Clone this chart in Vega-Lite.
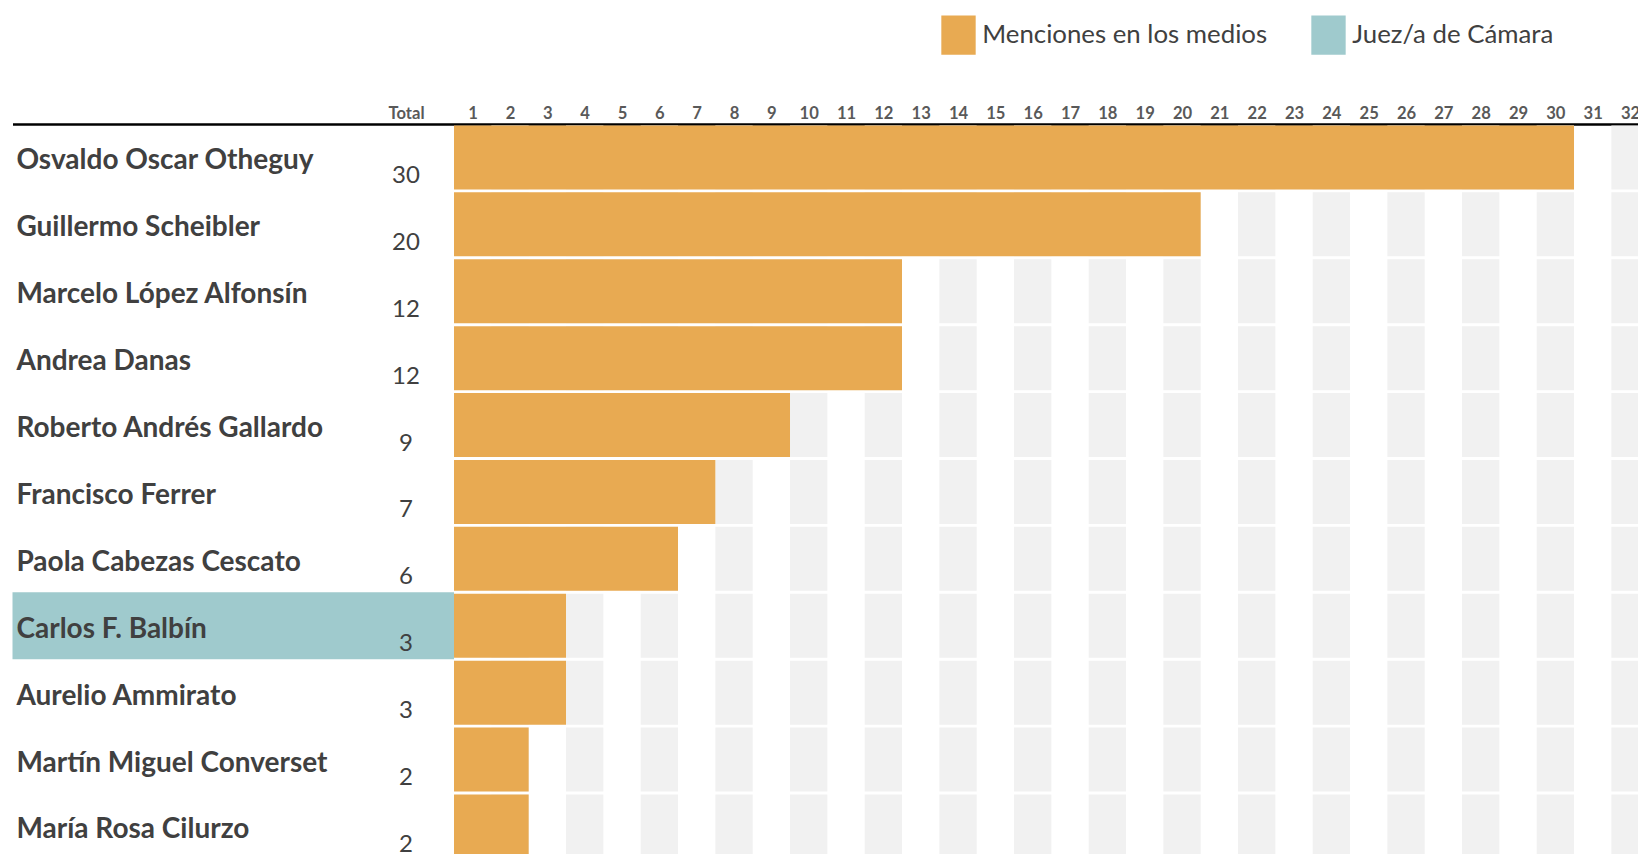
{
  "$schema": "https://vega.github.io/schema/vega-lite/v6.json",
  "autosize": {"type": "none"},
  "padding": {"left": 12.5, "top": 124, "right": 0, "bottom": 0},
  "width": 1625.5,
  "height": 730,
  "background": "white",
  "config": {"view": {"stroke": null}, "font": "Lato"},
  "datasets": {
    "rows": [
      {"r": 1, "n": "Osvaldo Oscar Otheguy", "total": 30, "juez": false},
      {"r": 2, "n": "Guillermo Scheibler", "total": 20, "juez": false},
      {"r": 3, "n": "Marcelo López Alfonsín", "total": 12, "juez": false},
      {"r": 4, "n": "Andrea Danas", "total": 12, "juez": false},
      {"r": 5, "n": "Roberto Andrés Gallardo", "total": 9, "juez": false},
      {"r": 6, "n": "Francisco Ferrer", "total": 7, "juez": false},
      {"r": 7, "n": "Paola Cabezas Cescato", "total": 6, "juez": false},
      {"r": 8, "n": "Carlos F. Balbín", "total": 3, "juez": true},
      {"r": 9, "n": "Aurelio Ammirato", "total": 3, "juez": false},
      {"r": 10, "n": "Martín Miguel Converset", "total": 2, "juez": false},
      {"r": 11, "n": "María Rosa Cilurzo", "total": 2, "juez": false}
    ],
    "cells": [
      {"r":1,"c":2},{"r":1,"c":4},{"r":1,"c":6},{"r":1,"c":8},{"r":1,"c":10},{"r":1,"c":12},{"r":1,"c":14},{"r":1,"c":16},{"r":1,"c":18},{"r":1,"c":20},{"r":1,"c":22},{"r":1,"c":24},{"r":1,"c":26},{"r":1,"c":28},{"r":1,"c":30},{"r":1,"c":32},
      {"r":2,"c":2},{"r":2,"c":4},{"r":2,"c":6},{"r":2,"c":8},{"r":2,"c":10},{"r":2,"c":12},{"r":2,"c":14},{"r":2,"c":16},{"r":2,"c":18},{"r":2,"c":20},{"r":2,"c":22},{"r":2,"c":24},{"r":2,"c":26},{"r":2,"c":28},{"r":2,"c":30},{"r":2,"c":32},
      {"r":3,"c":2},{"r":3,"c":4},{"r":3,"c":6},{"r":3,"c":8},{"r":3,"c":10},{"r":3,"c":12},{"r":3,"c":14},{"r":3,"c":16},{"r":3,"c":18},{"r":3,"c":20},{"r":3,"c":22},{"r":3,"c":24},{"r":3,"c":26},{"r":3,"c":28},{"r":3,"c":30},{"r":3,"c":32},
      {"r":4,"c":2},{"r":4,"c":4},{"r":4,"c":6},{"r":4,"c":8},{"r":4,"c":10},{"r":4,"c":12},{"r":4,"c":14},{"r":4,"c":16},{"r":4,"c":18},{"r":4,"c":20},{"r":4,"c":22},{"r":4,"c":24},{"r":4,"c":26},{"r":4,"c":28},{"r":4,"c":30},{"r":4,"c":32},
      {"r":5,"c":2},{"r":5,"c":4},{"r":5,"c":6},{"r":5,"c":8},{"r":5,"c":10},{"r":5,"c":12},{"r":5,"c":14},{"r":5,"c":16},{"r":5,"c":18},{"r":5,"c":20},{"r":5,"c":22},{"r":5,"c":24},{"r":5,"c":26},{"r":5,"c":28},{"r":5,"c":30},{"r":5,"c":32},
      {"r":6,"c":2},{"r":6,"c":4},{"r":6,"c":6},{"r":6,"c":8},{"r":6,"c":10},{"r":6,"c":12},{"r":6,"c":14},{"r":6,"c":16},{"r":6,"c":18},{"r":6,"c":20},{"r":6,"c":22},{"r":6,"c":24},{"r":6,"c":26},{"r":6,"c":28},{"r":6,"c":30},{"r":6,"c":32},
      {"r":7,"c":2},{"r":7,"c":4},{"r":7,"c":6},{"r":7,"c":8},{"r":7,"c":10},{"r":7,"c":12},{"r":7,"c":14},{"r":7,"c":16},{"r":7,"c":18},{"r":7,"c":20},{"r":7,"c":22},{"r":7,"c":24},{"r":7,"c":26},{"r":7,"c":28},{"r":7,"c":30},{"r":7,"c":32},
      {"r":8,"c":2},{"r":8,"c":4},{"r":8,"c":6},{"r":8,"c":8},{"r":8,"c":10},{"r":8,"c":12},{"r":8,"c":14},{"r":8,"c":16},{"r":8,"c":18},{"r":8,"c":20},{"r":8,"c":22},{"r":8,"c":24},{"r":8,"c":26},{"r":8,"c":28},{"r":8,"c":30},{"r":8,"c":32},
      {"r":9,"c":2},{"r":9,"c":4},{"r":9,"c":6},{"r":9,"c":8},{"r":9,"c":10},{"r":9,"c":12},{"r":9,"c":14},{"r":9,"c":16},{"r":9,"c":18},{"r":9,"c":20},{"r":9,"c":22},{"r":9,"c":24},{"r":9,"c":26},{"r":9,"c":28},{"r":9,"c":30},{"r":9,"c":32},
      {"r":10,"c":2},{"r":10,"c":4},{"r":10,"c":6},{"r":10,"c":8},{"r":10,"c":10},{"r":10,"c":12},{"r":10,"c":14},{"r":10,"c":16},{"r":10,"c":18},{"r":10,"c":20},{"r":10,"c":22},{"r":10,"c":24},{"r":10,"c":26},{"r":10,"c":28},{"r":10,"c":30},{"r":10,"c":32},
      {"r":11,"c":2},{"r":11,"c":4},{"r":11,"c":6},{"r":11,"c":8},{"r":11,"c":10},{"r":11,"c":12},{"r":11,"c":14},{"r":11,"c":16},{"r":11,"c":18},{"r":11,"c":20},{"r":11,"c":22},{"r":11,"c":24},{"r":11,"c":26},{"r":11,"c":28},{"r":11,"c":30},{"r":11,"c":32}
    ]
  },
  "layer": [
    {
      "data": {"name": "cells"},
      "mark": {"type": "bar", "color": "#f1f1f1", "height": {"band": 0.957}, "xOffset": -37.333},
      "encoding": {
        "x": {
          "field": "c", "type": "quantitative",
          "scale": {"domain": [-11.826, 31.714], "nice": false},
          "axis": {
            "orient": "top", "title": null, "grid": false,
            "values": [-1.286, 0.5, 1.5, 2.5, 3.5, 4.5, 5.5, 6.5, 7.5, 8.5, 9.5, 10.5, 11.5, 12.5, 13.5, 14.5, 15.5, 16.5, 17.5, 18.5, 19.5, 20.5, 21.5, 22.5, 23.5, 24.5, 25.5, 26.5, 27.5, 28.5, 29.5, 30.5, 31.5],
            "labelExpr": "datum.value < 0 ? 'Total' : format(datum.value + 0.5, 'd')",
            "ticks": false, "tickSize": 0,
            "domain": true, "domainColor": "#000000", "domainWidth": 2.7,
            "labelFont": "Lato", "labelFontWeight": "bold", "labelFontSize": 16.6,
            "labelColor": "#595959", "labelBaseline": "alphabetic", "labelPadding": 6,
            "labelFlush": false, "labelOverlap": false, "labelBound": false
          }
        },
        "x2": {"field": "c"},
        "y": {
          "field": "r", "type": "ordinal",
          "scale": {"type": "band", "range": [0, 735.9], "paddingInner": 0, "paddingOuter": 0},
          "axis": null
        }
      }
    },
    {
      "data": {"name": "rows"},
      "transform": [{"filter": "datum.juez"}],
      "mark": {"type": "bar"},
      "encoding": {
        "x": {"datum": -11.826, "type": "quantitative"},
        "x2": {"datum": 0},
        "y": {"field": "r", "type": "ordinal"},
        "color": {"datum": "Juez/a de Cámara"}
      }
    },
    {
      "data": {"name": "rows"},
      "mark": {"type": "bar", "height": {"band": 0.957}},
      "encoding": {
        "x": {"field": "total", "type": "quantitative"},
        "y": {"field": "r", "type": "ordinal"},
        "color": {
          "datum": "Menciones en los medios",
          "scale": {"domain": ["Menciones en los medios", "Juez/a de Cámara"], "range": ["#E8AA52", "#9FCACD"]},
          "legend": {
            "orient": "none", "legendX": 926, "legendY": -109,
            "direction": "horizontal", "title": null, "padding": 0,
            "symbolType": "M-0.87,-1H0.87V1H-0.87Z", "symbolSize": 1560, "symbolStrokeWidth": 0,
            "symbolOpacity": 1,
            "labelFont": "Lato", "labelFontSize": 25.8, "labelColor": "#404040",
            "labelOffset": 3.75, "columnPadding": 41, "labelLimit": 600
          }
        }
      }
    },
    {
      "data": {"name": "rows"},
      "mark": {"type": "text", "align": "left", "baseline": "alphabetic", "dy": 12, "font": "Lato", "fontWeight": "bold", "fontSize": 28, "color": "#404040"},
      "encoding": {
        "x": {"datum": -11.72, "type": "quantitative"},
        "y": {"field": "r", "type": "ordinal"},
        "text": {"field": "n"}
      }
    },
    {
      "data": {"name": "rows"},
      "mark": {"type": "text", "align": "center", "baseline": "alphabetic", "dy": 25.5, "font": "Lato", "fontSize": 24, "color": "#404040"},
      "encoding": {
        "x": {"datum": -1.286, "type": "quantitative"},
        "y": {"field": "r", "type": "ordinal"},
        "text": {"field": "total"}
      }
    }
  ]
}
